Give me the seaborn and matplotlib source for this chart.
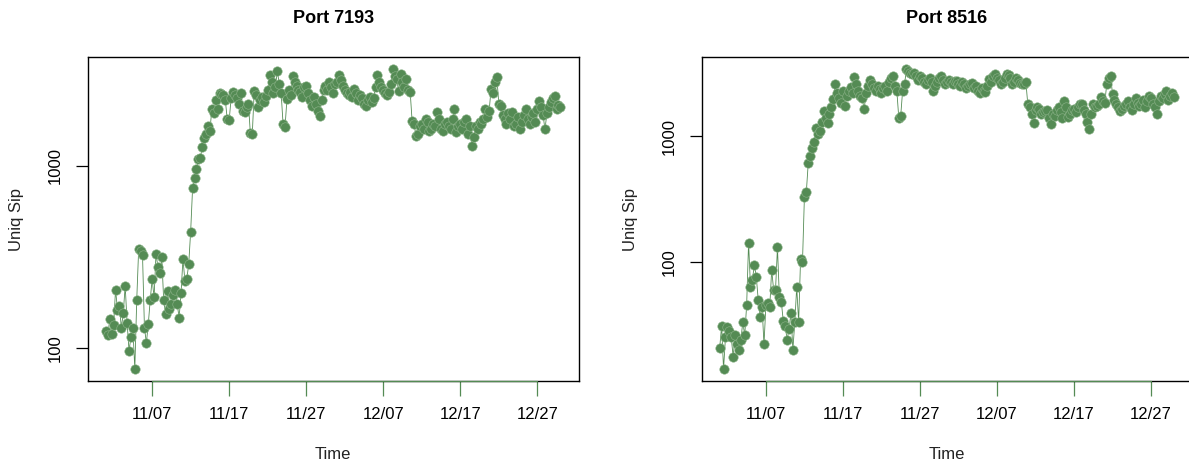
import numpy as np
import pandas as pd
import matplotlib
matplotlib.use("Agg")
import matplotlib.pyplot as plt
import matplotlib.dates as mdates
import seaborn as sns

# ---------------- data ----------------
start_time = "2000-11-01 00:00"
step = "6h"

port_7193 = [
    125, 118, 145, 120, 135, 210, 163, 170, 130, 156,
    220, 138, 97, 115, 130, 77, 184, 350, 340, 325,
    130, 107, 136, 184, 240, 190, 330, 280, 260, 315,
    183, 155, 207, 165, 175, 195, 210, 175, 147, 200,
    310, 235, 240, 290, 437, 755, 855, 960, 1090, 1100,
    1270, 1420, 1490, 1650, 1560, 2050, 1950, 2300, 2050, 2510,
    2480, 2450, 2300, 1800, 1780, 2350, 2540, 2450, 2350, 2200,
    2500, 2000, 1970, 2100, 2200, 1510, 1490, 2570, 2450, 2100,
    2300, 2400, 2250, 2420, 2600, 3150, 2900, 2500, 2700, 3320,
    2820, 2500, 1690, 1630, 2330, 2600, 2450, 3120, 2900, 2750,
    2600, 2550, 2400, 2700, 2750, 2500, 2300, 2130, 2400, 2200,
    2000, 1880, 2300, 2600, 2750, 2600, 2880, 2700, 2500, 2800,
    2900, 3150, 2950, 2750, 2600, 2500, 2450, 2540, 2400, 2640,
    2500, 2300, 2450, 2350, 2200, 2130, 2300, 2400, 2230, 2350,
    2710, 3150, 2900, 2700, 2600, 2500, 2450, 2540, 2800, 3390,
    3100, 3000, 2570, 3200, 2900, 2700, 3000, 2600, 2550, 1760,
    1700, 1460, 1500, 1650, 1700, 1600, 1800, 1750, 1550, 1590,
    1700, 1650, 1970, 1800, 1600, 1550, 1700, 1740, 1650, 1600,
    1800, 2050, 1530, 1650, 1700, 1600, 1750, 1800, 1500, 1650,
    1280, 1450, 1650, 1600, 1750, 1700, 1800, 2050, 1850, 2000,
    2640, 2500, 2900, 3070, 2200, 2130, 1900, 1800, 1700, 1950,
    1800, 1970, 1650, 1700, 1850, 1600, 1750, 1900, 2050, 1800,
    1700, 1850, 1950, 1750, 2050, 2270, 2100, 1900, 1590, 1950,
    2100, 2250, 2350, 2420, 2050, 2150, 2100,
]

port_8516 = [
    20.6, 31, 14, 25, 30, 28, 25, 17.5, 26, 22,
    20, 24, 33, 26, 45, 142, 63, 72, 95, 76,
    50, 36.5, 44, 22, 45, 47, 44, 86, 60, 60,
    130, 52, 48, 34, 31, 24, 29, 39, 20, 33,
    63, 33, 105, 100, 330, 360, 615, 690, 810, 905,
    1170, 1030, 1100, 1300, 1570, 1400, 1280, 1500, 1700, 1960,
    2580, 2200, 2000, 1850, 2300, 1720, 2100, 2300, 2450, 2200,
    2930, 2600, 2300, 2100, 2000, 1630, 2200, 2500, 2820, 2600,
    2400, 2300, 2490, 2350, 2200, 2400, 2500, 2300, 2700, 2900,
    3000, 2500, 2280, 1400, 1450, 2300, 2600, 3400, 3300, 3200,
    3100, 3200, 3000, 2800, 3000, 2900, 2700, 2580, 2800, 2900,
    2700, 2280, 2500, 2700, 2900, 3000, 2800, 2600, 2700, 2800,
    2700, 2600, 2750, 2730, 2600, 2500, 2700, 2600, 2400, 2500,
    2580, 2650, 2400, 2500, 2300, 2200, 2400, 2300, 2230, 2500,
    2830, 2700, 3000, 3100, 2900, 2800, 2600, 2700, 2900, 3100,
    3050, 2900, 2580, 2700, 2900, 2800, 2650, 2600, 2580, 2700,
    1790, 1700, 1500, 1280, 1600, 1700, 1650, 1500, 1550, 1570,
    1600, 1400, 1240, 1500, 1450, 1600, 1700, 1550, 1400, 1890,
    1700, 1430, 1500, 1600, 1630, 1550, 1700, 1800, 1790, 1600,
    1500, 1300, 1130, 1500, 1790, 1700, 1750, 1800, 2040, 1900,
    1850, 2600, 2900, 3000, 2150, 1950, 1800, 1700, 1570, 1650,
    1750, 1800, 1900, 1700, 1600, 1800, 2000, 1850, 1750, 1800,
    1950, 1700, 1900, 2100, 2000, 1800, 1700, 1500, 1900, 2100,
    2000, 2150, 2280, 1950, 2100, 2200, 2050,
]

titles = ["Port 7193", "Port 8516"]
x_label = "Time"
y_label = "Uniq Sip"
tick_dates = ["2000-11-07", "2000-11-17", "2000-11-27", "2000-12-07", "2000-12-17", "2000-12-27"]
y_ticks = [100, 1000]

# ---------------- style ----------------
sns.set_style("white")
plt.rcParams["font.family"] = ["Liberation Sans", "DejaVu Sans"]
plt.rcParams["text.color"] = "black"
plt.rcParams["axes.labelcolor"] = "#222222"
plt.rcParams["xtick.labelcolor"] = "black"
plt.rcParams["ytick.labelcolor"] = "black"

green = "#548B54"

fig = plt.figure(figsize=(11.89, 4.66), dpi=100)
axes = [
    fig.add_axes([0.0738, 0.1824, 0.4128, 0.6946]),
    fig.add_axes([0.5900, 0.1824, 0.4128, 0.6946]),
]

for ax, vals, title in zip(axes, [port_7193, port_8516], titles):
    times = pd.date_range(start_time, periods=len(vals), freq=step)
    df = pd.DataFrame({"Time": times, "v": vals})
    sns.lineplot(data=df, x="Time", y="v", ax=ax, color=green, linewidth=0.6,
                 alpha=1.0, marker="o", markersize=6.8, markeredgewidth=0.4,
                 markeredgecolor="#8fb58c", markerfacecolor=green)
    ax.set_yscale("log")
    # R-like 4% padding
    t0 = mdates.date2num(times[0]); t1 = mdates.date2num(times[-1])
    pad = 0.04 * (t1 - t0)
    ax.set_xlim(t0 - pad, t1 + pad)
    lv = np.log10(vals)
    lr = lv.max() - lv.min()
    ax.set_ylim(10 ** (lv.min() - 0.04 * lr), 10 ** (lv.max() + 0.04 * lr))

    ax.set_yticks(y_ticks)
    ax.set_yticklabels([str(t) for t in y_ticks])
    ax.yaxis.set_minor_locator(matplotlib.ticker.NullLocator())
    ax.tick_params(axis="y", which="major", direction="out", length=9, width=0.9,
                   color="black", labelsize=12, pad=9, left=True, labelcolor="black")
    for lab in ax.get_yticklabels():
        lab.set_rotation(90)
        lab.set_va("center")
        lab.set_ha("right")

    tds = pd.to_datetime(tick_dates)
    ax.set_xticks(mdates.date2num(tds))
    ax.set_xticklabels([d.strftime("%m/%d") for d in tds])
    ax.tick_params(axis="x", direction="out", length=11, width=0.9, color=green,
                   labelsize=12, pad=8, bottom=True, labelcolor="black")
    ax.plot([mdates.date2num(tds[0]), mdates.date2num(tds[-1])], [0, 0],
            transform=ax.get_xaxis_transform(), color=green, lw=0.9,
            clip_on=False, zorder=5)

    for s in ax.spines.values():
        s.set_visible(True)
        s.set_color("black")
        s.set_linewidth(1.0)

    ax.set_xlabel(x_label, fontsize=12)
    ax.set_ylabel(y_label, fontsize=12)
    ax.xaxis.set_label_coords(0.5, -0.204)
    ax.yaxis.set_label_coords(-0.130, 0.5)
    ax.text(0.5, 1.121, title, transform=ax.transAxes, ha="center", va="center",
            fontsize=13, fontweight="bold", color="black")
    ax.grid(False)

fig.savefig("out.png", dpi=100)
